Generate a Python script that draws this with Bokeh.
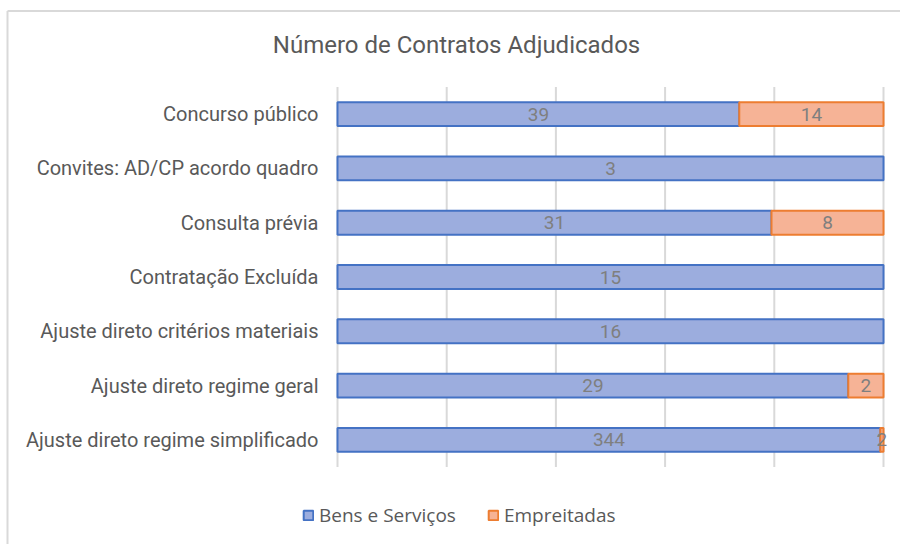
from bokeh.plotting import figure
from bokeh.models import FactorRange, Range1d, ColumnDataSource, Legend, LegendItem
from bokeh.core.properties import value
from bokeh.embed import file_html
from bokeh.resources import INLINE

title = "Número de Contratos Adjudicados"
categories = ["Concurso público", "Convites: AD/CP acordo quadro", "Consulta prévia",
              "Contratação Excluída", "Ajuste direto critérios materiais",
              "Ajuste direto regime geral", "Ajuste direto regime simplificado"]
bens = [39, 3, 31, 15, 16, 29, 344]
empreitadas = [14, 0, 8, 0, 0, 2, 2]
series_names = ["Bens e Serviços", "Empreitadas"]
grid_ticks = [0, 0.2, 0.4, 0.6, 0.8, 1.0]

totals = [b + e for b, e in zip(bens, empreitadas)]
b_frac = [b / t for b, t in zip(bens, totals)]
e_frac = [e / t for e, t in zip(empreitadas, totals)]

# ---- layout (pixels) ----
W, H = 900, 544
FRAME_L, FRAME_T = 5, 9            # plot frame
BOX_L, BOX_T = 7, 10.5             # chart box border
PLOT_L, PLOT_R = 337, 883          # 0% .. 100%
BAND_PX = 380 / 7
px_per_unit = PLOT_R - PLOT_L
frame_h = H - FRAME_T
n = len(categories)
pad = (frame_h / BAND_PX - n) / 2
band_top_px = FRAME_T + pad * BAND_PX


def xd(px):
    return (px - PLOT_L) / px_per_unit


def yd(px):
    return n + (band_top_px - px) / BAND_PX


src_b = ColumnDataSource(dict(cat=categories, right=b_frac))
e_idx = [i for i, e in enumerate(empreitadas) if e]
src_e = ColumnDataSource(dict(cat=[categories[i] for i in e_idx],
                              left=[b_frac[i] for i in e_idx],
                              right=[b_frac[i] + e_frac[i] for i in e_idx]))

p = figure(width=W, height=H, output_backend="svg", toolbar_location=None,
           y_range=FactorRange(factors=list(reversed(categories)),
                               range_padding=pad, range_padding_units="absolute"),
           x_range=Range1d(xd(FRAME_L), xd(W)),
           min_border_left=FRAME_L, min_border_right=0,
           min_border_top=FRAME_T, min_border_bottom=0)
p.axis.visible = False
p.grid.visible = False
p.outline_line_color = None
p.background_fill_color = "white"
p.border_fill_color = "white"

BLUE_FILL = "#9cadde"
BLUE_LINE = "#4472c4"
OR_FILL = "#f6b396"
OR_LINE = "#ed7d31"
TXT = "#595959"
BORDER = "#d9d9d9"

# chart box border (top and left edges)
p.segment(x0=[xd(BOX_L), xd(BOX_L)], x1=[xd(W + 10), xd(BOX_L)],
          y0=[yd(BOX_T), yd(BOX_T)], y1=[yd(BOX_T), yd(H + 10)],
          line_color=BORDER, line_width=2)

# gridlines over the category area
p.segment(x0=grid_ticks, x1=grid_ticks, y0=[0] * len(grid_ticks), y1=[n] * len(grid_ticks),
          line_color=BORDER, line_width=2)

r1 = p.hbar(y="cat", left=0, right="right", height=0.44, source=src_b,
            fill_color=BLUE_FILL, line_color=BLUE_LINE, line_width=2)
r2 = p.hbar(y="cat", left="left", right="right", height=0.44, source=src_e,
            fill_color=OR_FILL, line_color=OR_LINE, line_width=2)

# data labels
lb_x, lb_y, lb_t = [], [], []
for c, bf, ef, b, e in zip(categories, b_frac, e_frac, bens, empreitadas):
    if b:
        lb_x.append(bf / 2); lb_y.append(c); lb_t.append(str(b))
    if e:
        lb_x.append(bf + ef / 2); lb_y.append(c); lb_t.append(str(e))
p.text(x=lb_x, y=lb_y, text=lb_t, text_align="center", text_baseline="middle",
       text_font=value("Roboto"), text_font_size="19px", text_color="#7f7f7f")

# category labels
p.text(x=[xd(318)] * n, y=categories, text=categories, text_align="right",
       text_baseline="middle", text_font=value("Roboto"), text_font_size="20px",
       text_color=TXT)

# title
p.text(x=[xd(456)], y=[yd(45)], text=[title],
       text_align="center", text_baseline="middle", text_font=value("Roboto"),
       text_font_size="24px", text_color=TXT)

legend = Legend(items=[LegendItem(label=series_names[0], renderers=[r1]),
                       LegendItem(label=series_names[1], renderers=[r2])],
                orientation="horizontal", location=(302 - FRAME_L, H - 528),
                padding=0, margin=0, spacing=31, label_standoff=5,
                glyph_width=12, glyph_height=12, label_height=22,
                label_text_font="Open Sans", label_text_font_size="19px",
                label_text_color=TXT, border_line_color=None,
                background_fill_alpha=0)
p.add_layout(legend, "center")

open("out.html", "w").write(file_html(p, INLINE))
